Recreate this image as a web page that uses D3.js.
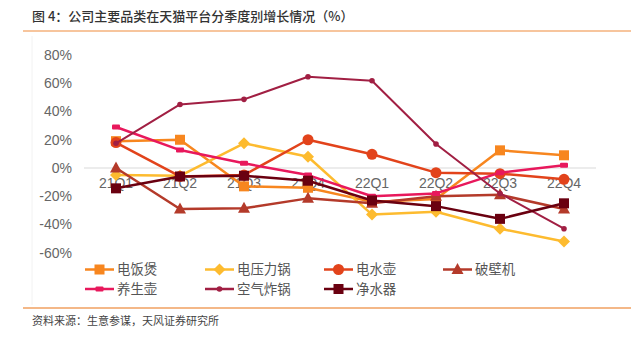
<!DOCTYPE html>
<html><head><meta charset="utf-8">
<script src="https://cdn.jsdelivr.net/npm/d3@7"></script>
<style>
html,body{margin:0;padding:0;background:#fff;}
svg{display:block;font-family:"Liberation Sans",Arial,"Noto Sans CJK SC",sans-serif;}
.cjk{font-family:"Noto Sans CJK SC",sans-serif;}
</style></head>
<body>
<svg id="c" width="631" height="338"></svg>
<script>
const categories = ["21Q1","21Q2","21Q3","21Q4","22Q1","22Q2","22Q3","22Q4"];
const yTicks = [80,60,40,20,0,-20,-40,-60];
const seriesNames = ["电饭煲","电压力锅","电水壶","破壁机","养生壶","空气炸锅","净水器"];
const riceCooker   = [19, 20, -13, -14, -24, -22, 12.5, 9];
const pressureCook = [-5, -5.5, 17.5, 8, -33, -31, -43, -52];
const kettle       = [18, -6, -5, 20, 9.7, -3.3, -4, -8];
const blender      = [0, -29, -28.5, -21.5, -25, -20, -19, -29];
const healthPot    = [29, 12.7, 3.3, -5, -20, -18, -3.3, 2];
const airFryer     = [17.5, 45, 48.6, 64.6, 61.8, 17, -18, -43];
const waterPurif   = [-14.4, -6, -5.5, -9, -23, -27, -36, -25];
const title = "图 4：公司主要品类在天猫平台分季度别增长情况（%）";
const source = "资料来源：生意参谋，天风证券研究所";

const colors = ["#F7861F","#FDBB2F","#E2431B","#B43A2A","#E8185C","#A11F43","#6A0010"];
const markers = ["square","diamond","circle","triangle","dash","dot","square"];
const widths = [2.5,2.5,2.5,2.5,2.5,2,2.5];
const data = [riceCooker,pressureCook,kettle,blender,healthPot,airFryer,waterPurif];

const svg = d3.select("#c");
const x = d3.scaleBand().domain(categories).range([84,596]);
const y = d3.scaleLinear().domain([-60,80]).range([252.75,55]);

// frame line
svg.append("line").attr("x1",32).attr("x2",32).attr("y1",36).attr("y2",305).attr("stroke","#f2f2f2");

// title
svg.append("text").attr("class","cjk").attr("x",32).attr("y",20.5).attr("font-size",13).attr("font-weight",500).attr("fill","#333").text(title);
svg.append("line").attr("x1",23).attr("x2",631).attr("y1",31).attr("y2",31).attr("stroke","#F5B27C").attr("stroke-width",1.5);

// y axis labels
const yAxis = d3.axisLeft(y).tickValues(yTicks).tickSize(0).tickPadding(0).tickFormat(d=>d+"%");
const ya = svg.append("g").attr("transform","translate(72,0)").call(yAxis);
ya.select(".domain").remove();
ya.selectAll("text").attr("font-size",14).attr("fill","#666").attr("font-family","'Liberation Sans',Arial,sans-serif");

// zero line
svg.append("line").attr("x1",84).attr("x2",596).attr("y1",y(0)).attr("y2",y(0)).attr("stroke","#d9d9d9").attr("stroke-width",1);

// x labels
const xAxis = d3.axisBottom(x).tickSize(0).tickPadding(0);
const xa = svg.append("g").attr("transform",`translate(0,${y(0)+10})`).call(xAxis);
xa.select(".domain").remove();
xa.selectAll("text").attr("font-size",14).attr("fill","#666").attr("dy","0.71em").attr("font-family","'Liberation Sans',Arial,sans-serif");

function drawMarker(g, type, cx, cy, color){
  if(type==="square") g.append("rect").attr("x",cx-5).attr("y",cy-5).attr("width",10).attr("height",10).attr("fill",color);
  else if(type==="diamond") g.append("path").attr("d",`M${cx},${cy-6}L${cx+6},${cy}L${cx},${cy+6}L${cx-6},${cy}Z`).attr("fill",color);
  else if(type==="circle") g.append("circle").attr("cx",cx).attr("cy",cy).attr("r",5.5).attr("fill",color);
  else if(type==="triangle") g.append("path").attr("d",`M${cx},${cy-6.5}L${cx+6},${cy+4.5}L${cx-6},${cy+4.5}Z`).attr("fill",color);
  else if(type==="dash") g.append("rect").attr("x",cx-4).attr("y",cy-2.5).attr("width",8).attr("height",5).attr("rx",1).attr("fill",color);
  else if(type==="dot") g.append("circle").attr("cx",cx).attr("cy",cy).attr("r",2.8).attr("fill",color);
}

const line = d3.line().x((d,i)=>x(categories[i])+x.bandwidth()/2).y(d=>y(d));
data.forEach((vals,si)=>{
  const g = svg.append("g");
  g.append("path").attr("d",line(vals)).attr("fill","none").attr("stroke",colors[si]).attr("stroke-width",widths[si]).attr("stroke-linejoin","round");
  vals.forEach((v,i)=>drawMarker(g, markers[si], x(categories[i])+x.bandwidth()/2, y(v), colors[si]));
});

// legend
const legX = [85,205,324,443];
const legY = [269.5,289];
seriesNames.forEach((name,i)=>{
  const lx = legX[i%4], ly = legY[Math.floor(i/4)];
  const g = svg.append("g");
  g.append("line").attr("x1",lx).attr("x2",lx+29).attr("y1",ly).attr("y2",ly).attr("stroke",colors[i]).attr("stroke-width",2.5);
  drawMarker(g, markers[i], lx+14.5, ly, colors[i]);
  g.append("text").attr("class","cjk").attr("x",lx+32).attr("y",ly).attr("dy","0.36em").attr("font-size",13.4).attr("fill","#555").text(name);
});

// bottom rule and source
svg.append("line").attr("x1",23).attr("x2",631).attr("y1",308).attr("y2",308).attr("stroke","#F0A060").attr("stroke-width",1.3);
svg.append("text").attr("class","cjk").attr("x",32).attr("y",325).attr("font-size",11).attr("fill","#444").text(source);
</script>
</body></html>
